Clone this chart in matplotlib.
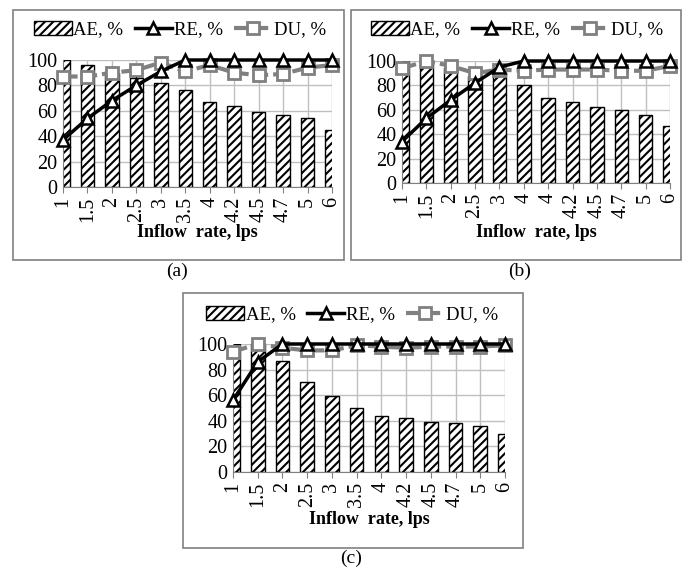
import matplotlib
matplotlib.use("Agg")
import matplotlib.pyplot as plt
from matplotlib.patches import Rectangle
from matplotlib.lines import Line2D
import numpy as np

plt.rcParams['font.family'] = ['Liberation Serif', 'DejaVu Serif']
plt.rcParams['hatch.linewidth'] = 1.5

cats_a = ['1', '1.5', '2', '2.5', '3', '3.5', '4', '4.2', '4.5', '4.7', '5', '6']
cats_b = ['1', '1.5', '2', '2.5', '3', '4', '4', '4.2', '4.5', '4.7', '5', '6']
cats_c = ['1', '1.5', '2', '2.5', '3', '3.5', '4', '4.2', '4.5', '4.7', '5', '6']

ae_a = [100, 96, 90, 86, 82, 76, 67, 64, 59, 57, 54, 45]
re_a = [37, 54, 68, 80, 91, 100, 100, 100, 100, 100, 100, 100]
du_a = [87, 87, 90, 92, 98, 91, 96, 90, 88, 89, 94, 96]

ae_b = [100, 100, 94, 88, 91, 80, 70, 66, 62, 60, 56, 47]
re_b = [34, 53, 68, 82, 95, 100, 100, 100, 100, 100, 100, 100]
du_b = [94, 100, 96, 90, 93, 92, 93, 93, 93, 92, 92, 96]

ae_c = [100, 100, 87, 70, 59, 50, 44, 42, 39, 38, 36, 30]
re_c = [56, 86, 100, 100, 100, 100, 100, 100, 100, 100, 100, 100]
du_c = [94, 100, 97, 95, 95, 99, 98, 97, 98, 98, 98, 99]

W, H = 686, 571
fig = plt.figure(figsize=(W / 100, H / 100), dpi=100)


def fx(px):
    return px / W


def fy(py):
    return 1 - py / H


def panel(ax_px, box_px, leg_px, xlab_py, cap_px, cap, cats, ae, re_, du):
    x0, x1, y0, y1 = ax_px  # left, right, top(100), bottom(0)
    ax = fig.add_axes([fx(x0), fy(y1), fx(x1) - fx(x0), fy(y0) - fy(y1)])
    x = np.arange(len(cats))
    ax.bar(x, ae, width=0.55, color='white', edgecolor='black', hatch='////',
           linewidth=1.0, zorder=2)
    ax.plot(x, re_, color='black', lw=2.5, marker='^', ms=8, mfc='white',
            mec='black', mew=1.8, zorder=4, clip_on=False)
    ax.plot(x, du, color='#808080', lw=3, ls=(0, (3.5, 1.2)), marker='s', ms=8,
            mfc='white', mec='#808080', mew=2, zorder=3, clip_on=False)
    ax.set_xlim(0, len(cats) - 1)
    ax.set_ylim(0, 100)
    ax.set_yticks(np.arange(0, 101, 20))
    ax.set_xticks(x)
    ax.set_xticklabels(cats, rotation=90, fontsize=14.5)
    ax.tick_params(axis='y', labelsize=14.5, length=0, pad=4)
    ax.tick_params(axis='x', length=4, color='#808080', pad=3)
    ax.grid(True, color='#BFBFBF', lw=1, zorder=0)
    ax.set_axisbelow(True)
    for s in ['top', 'right']:
        ax.spines[s].set_visible(False)
    for s in ['left', 'bottom']:
        ax.spines[s].set_color('#808080')
    fig.text(fx((x0 + x1) / 2), fy(xlab_py), 'Inflow  rate, lps', ha='center',
             va='center', fontsize=13, fontweight='bold')
    bx0, bx1, by0, by1 = box_px
    fig.add_artist(Rectangle((fx(bx0), fy(by1)), fx(bx1) - fx(bx0), fy(by0) - fy(by1),
                             transform=fig.transFigure, fill=False,
                             edgecolor='#808080', lw=1.2))
    handles = [
        Rectangle((0, 0), 1, 1, facecolor='white', edgecolor='black', hatch='////', lw=1.0),
        Line2D([], [], color='black', lw=2.5, marker='^', ms=8, mfc='white', mec='black', mew=1.8),
        Line2D([], [], color='#808080', lw=3, ls=(0, (3.5, 1.2)), marker='s', ms=8,
               mfc='white', mec='#808080', mew=2),
    ]
    fig.legend(handles, ['AE, %', 'RE, %', 'DU, %'], loc='center',
               bbox_to_anchor=(fx(leg_px[0]), fy(leg_px[1])), ncol=3, frameon=False,
               fontsize=13.5, handlelength=2.0, handletextpad=0.1, columnspacing=0.6,
               borderpad=0)
    fig.text(fx(cap_px[0]), fy(cap_px[1]), cap, ha='center', va='center', fontsize=14)
    return ax


panel((63, 332, 60, 187), (13, 344, 10, 260), (180, 30), 233, (177, 271), '(a)',
      cats_a, ae_a, re_a, du_a)
panel((402, 670, 61, 183), (351, 681, 10, 260), (517, 30), 233, (520, 271), '(b)',
      cats_b, ae_b, re_b, du_b)
panel((233, 505, 344, 472), (183, 523, 293, 548), (352, 315), 520, (351, 558), '(c)',
      cats_c, ae_c, re_c, du_c)

fig.savefig('out.png', dpi=100)
